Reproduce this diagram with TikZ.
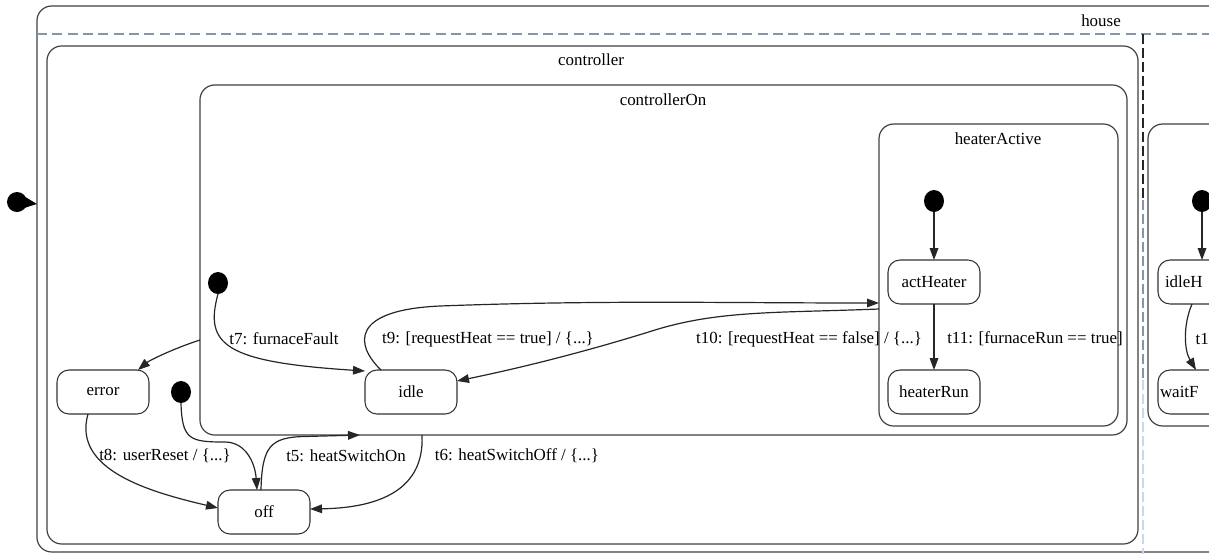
\documentclass[tikz,border=0pt]{standalone}
\usepackage{fontspec}
\setmainfont{Liberation Serif}
\usetikzlibrary{arrows.meta,shapes.geometric,fit,calc}
\definecolor{sepblue}{HTML}{8596A8}
\definecolor{lightsep}{HTML}{C4DAF0}
\begin{document}
\begin{tikzpicture}[x=0.75pt,y=-0.75pt,
  every node/.style={font=\fontsize{12.7}{15}\selectfont},
  box/.style={draw=black!75, line width=0.9pt, rounded corners=11pt, inner sep=0pt, outer sep=0pt},
  stnode/.style={draw=black!80, line width=0.8pt, rounded corners=9pt, minimum width=69pt, minimum height=33pt, inner sep=0pt, outer sep=0pt},
  initdot/.style={ellipse, fill=black, minimum width=15pt, minimum height=16.5pt, inner sep=0pt, outer sep=0pt},
  trans/.style={draw=black!85, line width=0.9pt, -{Triangle[length=9pt,width=6.5pt]}},
  lbl/.style={inner sep=1pt},
]
\useasboundingbox (0,0) rectangle (1209,554);
\clip (0,0) rectangle (1209,554);

% container corners
\coordinate (hA) at (37,6);      \coordinate (hB) at (1260,552);
\coordinate (cA) at (47,46);     \coordinate (cB) at (1138,544);
\coordinate (oA) at (200,85);    \coordinate (oB) at (1127,435);
\coordinate (aA) at (879,124);   \coordinate (aB) at (1118,426);
\coordinate (rA) at (1148,124);  \coordinate (rB) at (1300,426);

\node[box, fit=(hA)(hB)] (house) {};
\node[box, fit=(cA)(cB)] (ctrl) {};
\node[box, fit=(oA)(oB)] (ctrlOn) {};
\node[box, fit=(aA)(aB)] (heatA) {};
\node[box, fit=(rA)(rB)] (rbox) {};

% house header
\coordinate (dl1) at (37,34);
\coordinate (dl2) at (1209,34);
\draw[sepblue, line width=0.9pt, dash pattern=on 7.5pt off 4pt] (dl1) -- (dl2);
\coordinate (vs1) at (1143,34);
\coordinate (vs2) at (1143,200);
\coordinate (vs3) at (1143,380);
\coordinate (vs4) at (1143,554);
\draw[black!85, line width=0.8pt, dash pattern=on 7.5pt off 3pt] (vs1) -- (vs2);
\draw[sepblue, line width=0.8pt, dash pattern=on 7.5pt off 3pt] (vs2) -- (vs3);
\draw[lightsep, line width=0.8pt, dash pattern=on 7.5pt off 3pt] (vs3) -- (vs4);

% container labels
\node[lbl] (lhouse) at (1101,21) {house};
\node[lbl] (lctrl) at (591,60) {controller};
\node[lbl] (lctrlOn) at (663,100) {controllerOn};
\node[lbl] (lheatA) at (998,139) {heaterActive};

% top-level initial marker
\node[initdot, minimum width=15pt, minimum height=15pt] (dot0) at (17,202) {};
\coordinate (dot0tip) at (37,204);
\fill ($(dot0.center)+(3,-8)$) .. controls ($(dot0.center)+(10,-4)$) .. (dot0tip)
      .. controls ($(dot0.center)+(10,5)$) .. ($(dot0.center)+(3,8)$) -- cycle;

% states
\node[stnode] (error) at (103,392) {error};
\node[stnode] (idle) at (411,392) {idle};
\node[stnode] (off) at (264,512) {off};
\node[stnode] (act) at (934,282) {actHeater};
\node[stnode] (run) at (934,392) {heaterRun};
\node[stnode, text width=58.5pt, align=left] (idleH) at (1204,282) {idleH};
\node[stnode, text width=66pt, align=left] (waitF) at (1204,392) {waitF};

% initial dots
\node[initdot] (dotOn) at (218,283) {};
\node[initdot] (dotC) at (181,392) {};
\node[initdot] (dotA) at (934,201) {};
\node[initdot] (dotR) at (1202,201) {};

% transitions
\draw[trans] (dotA) -- (act);
\draw[trans] (act) -- (run);
\draw[trans] (dotR) -- (idleH.north -| dotR.south);
\draw[trans] (idleH.south -| 1192,0) .. controls (1183,325) and (1184,350) .. (waitF.north -| 1196,0);

\draw[trans] (dotOn.south) .. controls (204,345) and (225,362) .. ($(idle.north west)+(0,1)$);
\draw[trans] (ctrlOn.west |- 0,340) .. controls (175,348) and (150,360) .. ($(error.north east)+(-11,0)$);
\draw[trans] (dotC.south) .. controls (182,440) and (190,442) .. (225,442)
      .. controls (245,442) and (255,462) .. ($(off.north)+(-7,0)$);
\draw[trans] ($(off.north)+(-3,0)$) .. controls (262,447) and (270,437) .. (305,436.5) -- (ctrlOn.south -| 360,0);
\draw[trans] (ctrlOn.south -| 422,0) .. controls (425,495) and (370,508) .. ($(off.east)+(0,-3)$);
\draw[trans] ($(error.south)+(-15,0)$) .. controls (72,470) and (150,492) .. ($(off.west)+(0,-4)$);
\draw[trans] ($(idle.north west)+(16,0)$) .. controls (355,345) and (350,310) .. (440,306)
      .. controls (600,300) and (720,303) .. (heatA.west |- 0,303);
\draw[trans] (heatA.west |- 0,309) .. controls (780,313) and (720,310) .. (655,330)
      .. controls (585,352) and (520,368) .. ($(idle.east)+(0,-11)$);

% transition labels
\node[lbl] (l7) at (284,339) {t7: furnaceFault};
\node[lbl] (l9) at (488,339) {t9: [requestHeat == true] / \{...\}};
\node[lbl] (l10) at (809,339) {t10: [requestHeat == false] / \{...\}};
\node[lbl] (l11) at (1035,339) {t11: [furnaceRun == true]};
\node[lbl, anchor=west] (l1x) at (1194,339) {t1};
\node[lbl] (l8) at (165,456) {t8: userReset / \{...\}};
\node[lbl] (l5) at (346,456) {t5: heatSwitchOn};
\node[lbl] (l6) at (517,456) {t6: heatSwitchOff / \{...\}};
\end{tikzpicture}
\end{document}
